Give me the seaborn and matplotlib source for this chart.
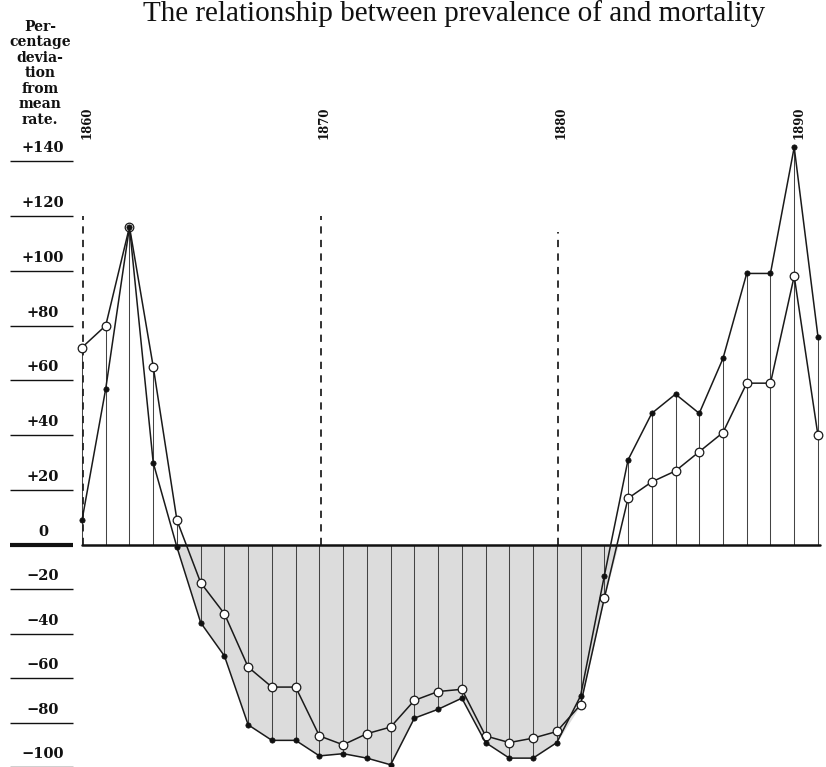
import numpy as np
import matplotlib
matplotlib.use("Agg")
import matplotlib.pyplot as plt
import matplotlib.transforms as mtransforms
import seaborn as sns

# Percentage deviation from the mean rate, one value per year
years = list(range(1860, 1892))
prevalence = [72, 80, 116, 65, 9, -17, -31, -55, -64, -64,
              -86, -90, -85, -82, -70, -66, -65, -86, -89, -87,
              -84, -72, -24, 17, 23, 27, 34, 41, 59, 59,
              98, 40]
mortality = [9, 57, 116, 30, -1, -35, -50, -81, -88, -88,
             -95, -94, -96, -99, -78, -74, -69, -89, -96, -96,
             -89, -68, -14, 31, 48, 55, 48, 68, 99, 99,
             145, 76]

y_ticks = [140, 120, 100, 80, 60, 40, 20, 0, -20, -40, -60, -80, -100]
y_tick_labels = ["+140", "+120", "+100", "+80", "+60", "+40", "+20", "0",
                 "\u221220", "\u221240", "\u221260", "\u221280", "\u2212100"]
decades = [1860, 1870, 1880, 1890]
decade_labels = ["1860", "1870", "1880", "1890"]
decade_marks = [1860, 1870, 1880]
decade_mark_tops = [120, 120, 114]

title = "The relationship between prevalence of and mortality"
y_title = "Per-\ncentage\ndevia-\ntion\nfrom\nmean\nrate."

sns.set_style("white")
plt.rcParams["font.family"] = ["DejaVu Serif"]

W, H = 826, 767
fig = plt.figure(figsize=(W / 100, H / 100), dpi=100)
ax = fig.add_axes([0, 0, 1, 1])
ax.set_axis_off()

# the scale below zero is drawn more compactly than above it
k = 2.22 / 2.743
ax.set_yscale("function",
              functions=(lambda v: np.where(v >= 0, v, v * k),
                         lambda t: np.where(t >= 0, t, t / k)))
px_per_year = 23.74
x0 = 1860 - 82 / px_per_year
ax.set_xlim(x0, x0 + W / px_per_year)
ax.set_ylim(-100, 545 / 2.743)

yrs = np.array(years, dtype=float)
prev = np.array(prevalence, dtype=float)
mort = np.array(mortality, dtype=float)
low = np.minimum(prev, mort)
high = np.maximum(prev, mort)

# shaded area below the mean
ax.fill_between(yrs, 0, low, where=low <= 0, interpolate=True,
                color="#dcdcdc", lw=0, zorder=1)

# yearly ordinates from zero to the outer point
ext = np.where(np.abs(high) >= np.abs(low), high, low)
ax.vlines(yrs, 0, ext, colors="#444444", lw=0.75, zorder=2)

# decade markers
for d, top in zip(decade_marks, decade_mark_tops):
    ax.plot([d + 0.05, d + 0.05], [0, top], color="#222222", lw=1.3,
            ls=(0, (4, 3.5)), zorder=2)

# mean line
ax.plot([1860, 1891.1], [0, 0], color="#111111", lw=1.8, zorder=3)

sns.lineplot(x=yrs, y=prev, ax=ax, color="#1a1a1a", lw=1.1, marker="o",
             markersize=6.2, markerfacecolor="white", markeredgecolor="#1a1a1a",
             markeredgewidth=0.9, zorder=4)
sns.lineplot(x=yrs, y=mort, ax=ax, color="#1a1a1a", lw=1.1, marker="o",
             markersize=3.8, markerfacecolor="#111111", markeredgecolor="#111111",
             markeredgewidth=0.5, zorder=5)

# hand-ruled vertical scale
tr = mtransforms.blended_transform_factory(ax.transAxes, ax.transData)
for v, lab in zip(y_ticks, y_tick_labels):
    lw = 3.0 if v == 0 else 1.0
    ax.plot([10 / W, 73 / W], [v, v], transform=tr, color="#111111",
            lw=lw, solid_capstyle="butt", clip_on=False)
    ax.annotate(lab, xy=(43 / W, v), xycoords=tr, xytext=(0, 6),
                textcoords="offset pixels", ha="center", va="bottom",
                fontsize=10.5, fontweight="bold", color="#111111")

# decade labels along the top
trx = mtransforms.blended_transform_factory(ax.transData, ax.transAxes)
for d, lab in zip(decades, decade_labels):
    ax.text(d + 0.2, 1 - 123 / H, lab, transform=trx, rotation=90,
            ha="center", va="center", fontsize=8.5, fontweight="bold",
            color="#111111")

fig.text(40 / W, 1 - 20 / H, y_title, ha="center", va="top", fontsize=10,
         fontweight="bold", linespacing=1.13, color="#111111")

fig.text(454 / W, 1 - 21 / H, title, ha="center", va="baseline",
         fontsize=21, family="Liberation Serif", color="#111111")

fig.savefig("out.png", dpi=100)
